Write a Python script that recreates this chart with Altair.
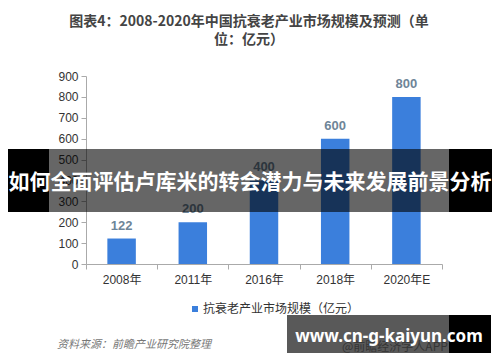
import altair as alt
import pandas as pd

# ---- data ----
YEARS = ["2008年", "2011年", "2016年", "2018年", "2020年E"]
VALUES = [122, 200, 400, 600, 800]
SERIES = "抗衰老产业市场规模（亿元）"
Y_TICKS = [0, 100, 200, 300, 400, 500, 600, 700, 800, 900]
TITLE_LINES = ["图表4：2008-2020年中国抗衰老产业市场规模及预测（单", "位：亿元）"]
BANNER = "如何全面评估卢库米的转会潜力与未来发展前景分析"
SOURCE = "资料来源：前瞻产业研究院整理"
APP_MARK = "@前瞻经济学人APP"
SITE = "www.cn-g-kaiyun.com"

BLUE = "#3b7fdc"
FONT = "Liberation Sans, Noto Sans CJK SC"
CJK = "Noto Sans CJK SC"

# plot-area origin inside the chart (overlay positions are relative to it)
OX, OY = 78, 68

df = pd.DataFrame({"year": YEARS, "value": VALUES, "series": [SERIES] * len(YEARS)})
one = pd.DataFrame({"k": [0]})

x_enc = alt.X("year:N", sort=YEARS,
              scale=alt.Scale(type="band", paddingInner=0, paddingOuter=0),
              axis=alt.Axis(title=None, labelAngle=0, tickBand="extent",
                            domainColor="#aaaaaa", tickColor="#aaaaaa", tickSize=5,
                            labelFont=FONT, labelFontSize=12, labelColor="#333333",
                            labelPadding=5))
y_enc = alt.Y("value:Q",
              scale=alt.Scale(domain=[0, 900], nice=False),
              axis=alt.Axis(title=None, values=Y_TICKS, tickCount=10, grid=False,
                            labelOverlap=False,
                            domainColor="#aaaaaa", tickColor="#aaaaaa", tickSize=5,
                            labelFont=FONT, labelFontSize=12, labelColor="#333333",
                            labelPadding=3))

bars = alt.Chart(df).mark_bar(width=alt.RelativeBandSize(0.4)).encode(
    x=x_enc, y=y_enc,
    color=alt.Color("series:N", scale=alt.Scale(range=[BLUE]),
                    legend=alt.Legend(title=None, orient="none",
                                      legendX=181 - OX, legendY=295 - OY,
                                      symbolType="square", symbolSize=36,
                                      symbolStrokeWidth=0, labelFont=CJK,
                                      labelFontSize=12, labelColor="#333333",
                                      padding=0, labelOffset=2)),
)

labels = alt.Chart(df).mark_text(baseline="bottom", dy=-6, font=FONT, fontSize=13,
                                 fontWeight="bold", color="#6e8598").encode(
    x=x_enc, y=y_enc, text="value:Q")


def text(t, x, y, size, color, weight="normal", style="normal", font=CJK, align="center"):
    return alt.Chart(one).mark_text(text=t, font=font, fontSize=size, fontWeight=weight,
                                    fontStyle=style, color=color, align=align,
                                    baseline="middle").encode(
        x=alt.value(x - OX), y=alt.value(y - OY))


def rect(x1, x2, y1, y2, color, opacity):
    return alt.Chart(one).mark_rect(color=color, opacity=opacity).encode(
        x=alt.value(x1 - OX), x2=alt.value(x2 - OX),
        y=alt.value(y1 - OY), y2=alt.value(y2 - OY))


title_layers = [
    text(TITLE_LINES[0], 241, 14, 14, "#444444", weight="bold"),
    text(TITLE_LINES[1], 241, 32, 14, "#444444", weight="bold"),
]

source = text(SOURCE, 49, 337, 11, "#777777", style="italic", align="left")
app_mark = text(APP_MARK, 334, 339, 12, "#999999", align="left")

banner_layers = [
    rect(0, 41, 141, 204, "#000000", 1.0),
    rect(41, 441, 141, 204, "#000000", 0.6),
    rect(441, 484, 141, 204, "#000000", 1.0),
    text(BANNER, 242, 175, 21, "#ffffff", weight="bold"),
]

site_layers = [
    rect(279, 441, 307, 345, "#000000", 0.65),
    rect(441, 483, 307, 345, "#000000", 1.0),
    text(SITE, 381, 329, 17, "#ffffff", weight="bold", font="Noto Sans"),
]

chart = alt.layer(
    bars, labels, *title_layers, source, app_mark, *banner_layers, *site_layers
).properties(
    width=356, height=188,
    autosize=alt.AutoSizeParams(type="none"),
    padding={"left": OX, "top": OY, "right": 50, "bottom": 90},
    background="#ffffff",
).configure_view(stroke=None)

chart.save("out.html", embed_options={"renderer": "svg", "actions": False})
